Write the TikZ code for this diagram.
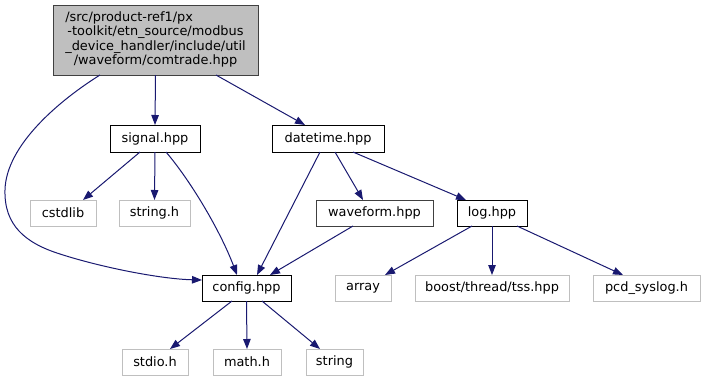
\documentclass[tikz,border=0pt]{standalone}
\usepackage{fontspec}
\setmainfont{DejaVu Sans}
\usetikzlibrary{arrows.meta}
\definecolor{edgeblue}{HTML}{191970}
\definecolor{lightframe}{HTML}{BFBFBF}
\definecolor{rootfill}{HTML}{BFBFBF}
\definecolor{darkframe}{HTML}{404040}
\begin{document}
\begin{tikzpicture}[x=1pt,y=-1pt,
  every node/.style={font=\fontsize{12.9}{14.5}\selectfont, inner sep=0pt, outer sep=0pt},
  filebox/.style={draw=black, line width=1pt, fill=white, minimum height=26pt},
  extbox/.style={draw=lightframe, line width=1pt, fill=white, minimum height=26pt},
  dep/.style={draw=edgeblue, line width=1pt, -{Triangle[length=10pt,width=7.5pt]}},
]
\useasboundingbox (0,0) rectangle (706,381);

% root file
\node[draw=darkframe, fill=rootfill, line width=1pt, minimum width=205pt, minimum height=70pt] (root) at (155.5,40)
  {\begin{tabular}{@{}c@{}}
   \multicolumn{1}{@{}l@{}}{/src/product-ref1/px}\\
   -toolkit/etn\_source/modbus\\
   \_device\_handler/include/util\\
   /waveform/comtrade.hpp
   \end{tabular}};

% headers of the project
\node[filebox, minimum width=90pt, minimum height=27pt] (signal) at (155,138.5) {signal.hpp};
\node[filebox, minimum width=112pt, minimum height=27pt] (datetime) at (328,138.5) {datetime.hpp};
\node[filebox, draw=darkframe, minimum width=117pt] (waveform) at (374.5,213) {waveform.hpp};
\node[filebox, minimum width=70pt] (log) at (492,213) {log.hpp};
\node[filebox, minimum width=89pt] (config) at (246.5,288) {config.hpp};

% external headers
\node[extbox, minimum width=66pt] (cstdlib) at (63,213) {cstdlib};
\node[extbox, minimum width=71pt] (stringh) at (154.5,213) {string.h};
\node[extbox, minimum width=56pt] (array) at (363,288) {array};
\node[extbox, minimum width=154pt] (boost) at (492,288) {boost/thread/tss.hpp};
\node[extbox, minimum width=107pt] (pcd) at (646.5,288) {pcd\_syslog.h};
\node[extbox, minimum width=66pt] (stdio) at (155,362) {stdio.h};
\node[extbox, minimum width=68pt] (math) at (247,362) {math.h};
\node[extbox, minimum width=57pt] (string) at (334.5,362) {string};

% include edges
\draw[dep] (root.south) -- (signal.north);
\draw[dep] ([xshift=60.5pt]root.south) -- ([xshift=-23pt]datetime.north);
\draw[dep] ([xshift=-55.5pt]root.south) .. controls (60,100) and (6,145) .. (5,190)
  .. controls (4,225) and (25,243) .. (60,254)
  .. controls (100,267) and (160,279) .. ([yshift=8pt]config.west);

\draw[dep] ([xshift=-15pt]signal.south) -- ([xshift=20pt]cstdlib.north);
\draw[dep] (signal.south) -- (stringh.north);
\draw[dep] ([xshift=11pt]signal.south) .. controls (190,180) and (220,230) .. ([xshift=-9.5pt]config.north);

\draw[dep] ([xshift=-8pt]datetime.south) -- ([xshift=10.5pt]config.north);
\draw[dep] ([xshift=7pt]datetime.south) -- ([xshift=-11.5pt]waveform.north);
\draw[dep] ([xshift=25pt]datetime.south) -- ([xshift=-26pt]log.north);

\draw[dep] ([xshift=-21.5pt]waveform.south) -- ([xshift=23.5pt]config.north);

\draw[dep] ([xshift=-20pt]log.south) -- ([xshift=22pt]array.north);
\draw[dep] (log.south) -- (boost.north);
\draw[dep] ([xshift=25pt]log.south) -- ([xshift=-23.5pt]pcd.north);

\draw[dep] ([xshift=-14.5pt]config.south) -- ([xshift=15pt]stdio.north);
\draw[dep] (config.south) -- (math.north);
\draw[dep] ([xshift=15.5pt]config.south) -- ([xshift=-14.5pt]string.north);
\end{tikzpicture}
\end{document}
